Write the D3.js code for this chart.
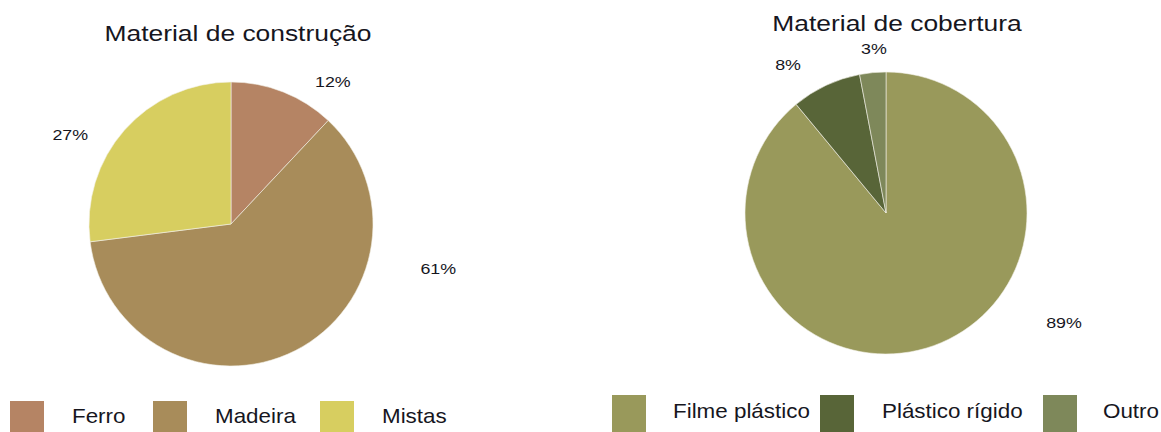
<!DOCTYPE html>
<html>
<head>
<meta charset="utf-8">
<script src="https://cdn.jsdelivr.net/npm/d3@7"></script>
<style>
  html, body { margin: 0; padding: 0; background: #fff; }
  svg { display: block; }
  text { font-family: "Liberation Sans", Arial, sans-serif; fill: #16161e; }
</style>
</head>
<body>
<svg id="chart" width="1161" height="432"></svg>
<script>
// ---- Data ----
const constructionTitle = "Material de construção";
const constructionCategories = ["Ferro", "Madeira", "Mistas"];
const constructionValues = [12, 61, 27];

const coverTitle = "Material de cobertura";
const coverCategories = ["Filme plástico", "Plástico rígido", "Outro"];
const coverValues = [89, 8, 3];

// ---- Styles / layout (not data) ----
const constructionColors = ["#b58464", "#a88c5a", "#d7ce60"];
const coverColors = ["#99995b", "#586538", "#7e885a"];

const charts = [
  {
    title: constructionTitle, cats: constructionCategories, vals: constructionValues, colors: constructionColors,
    cx: 231, cy: 224, r: 142, titleX: 238, titleY: 41,
    // label placement in polar form: [angle in degrees clockwise from top, radius]
    labelPolar: [[35.6, 175], [102.1, 212], [299.1, 184]],
    legendSquareX: [10, 153, 320], legendTextX: [72, 215, 382], legendY: 401, legendTextY: 423
  },
  {
    title: coverTitle, cats: coverCategories, vals: coverValues, colors: coverColors,
    cx: 886, cy: 213, r: 141, titleX: 897, titleY: 31,
    labelPolar: [[121.6, 209], [326.5, 177.5], [355.8, 165]],
    legendSquareX: [612, 820, 1043], legendTextX: [673, 882, 1103], legendY: 395, legendTextY: 418
  }
];

const svg = d3.select("#chart");
const SX = 1.12;

charts.forEach(c => {
  const g = svg.append("g");
  const pie = d3.pie().sort(null).value(d => d)(c.vals);
  const arc = d3.arc().innerRadius(0).outerRadius(c.r);
  const color = d3.scaleOrdinal().domain(c.cats).range(c.colors);

  g.append("g").attr("transform", `translate(${c.cx},${c.cy})`)
    .selectAll("path").data(pie).join("path")
    .attr("d", arc)
    .attr("fill", (d, i) => color(c.cats[i]))
    .attr("stroke", "#f4f2ea").attr("stroke-width", 0.6);

  // title
  g.append("text")
    .attr("transform", `translate(${c.titleX},${c.titleY}) scale(1.2,1)`)
    .attr("text-anchor", "middle")
    .style("font-size", "22px")
    .text(c.title);

  // percentage labels
  g.selectAll("text.lbl").data(pie).join("text")
    .attr("class", "lbl")
    .attr("transform", (d, i) => {
      const [a, rr] = c.labelPolar[i];
      const t = a * Math.PI / 180;
      const x = c.cx + rr * Math.sin(t);
      const y = c.cy - rr * Math.cos(t) + 5.5;
      return `translate(${x},${y}) scale(1.15,1)`;
    })
    .attr("text-anchor", "middle")
    .style("font-size", "15.5px")
    .text(d => d.value + "%");

  // legend
  c.cats.forEach((cat, i) => {
    g.append("rect")
      .attr("x", c.legendSquareX[i]).attr("y", c.legendY)
      .attr("width", 34).attr("height", 40)
      .attr("fill", color(cat));
    g.append("text")
      .attr("transform", `translate(${c.legendTextX[i]},${c.legendTextY}) scale(${SX},1)`)
      .style("font-size", "20px")
      .text(cat);
  });
});
</script>
</body>
</html>
